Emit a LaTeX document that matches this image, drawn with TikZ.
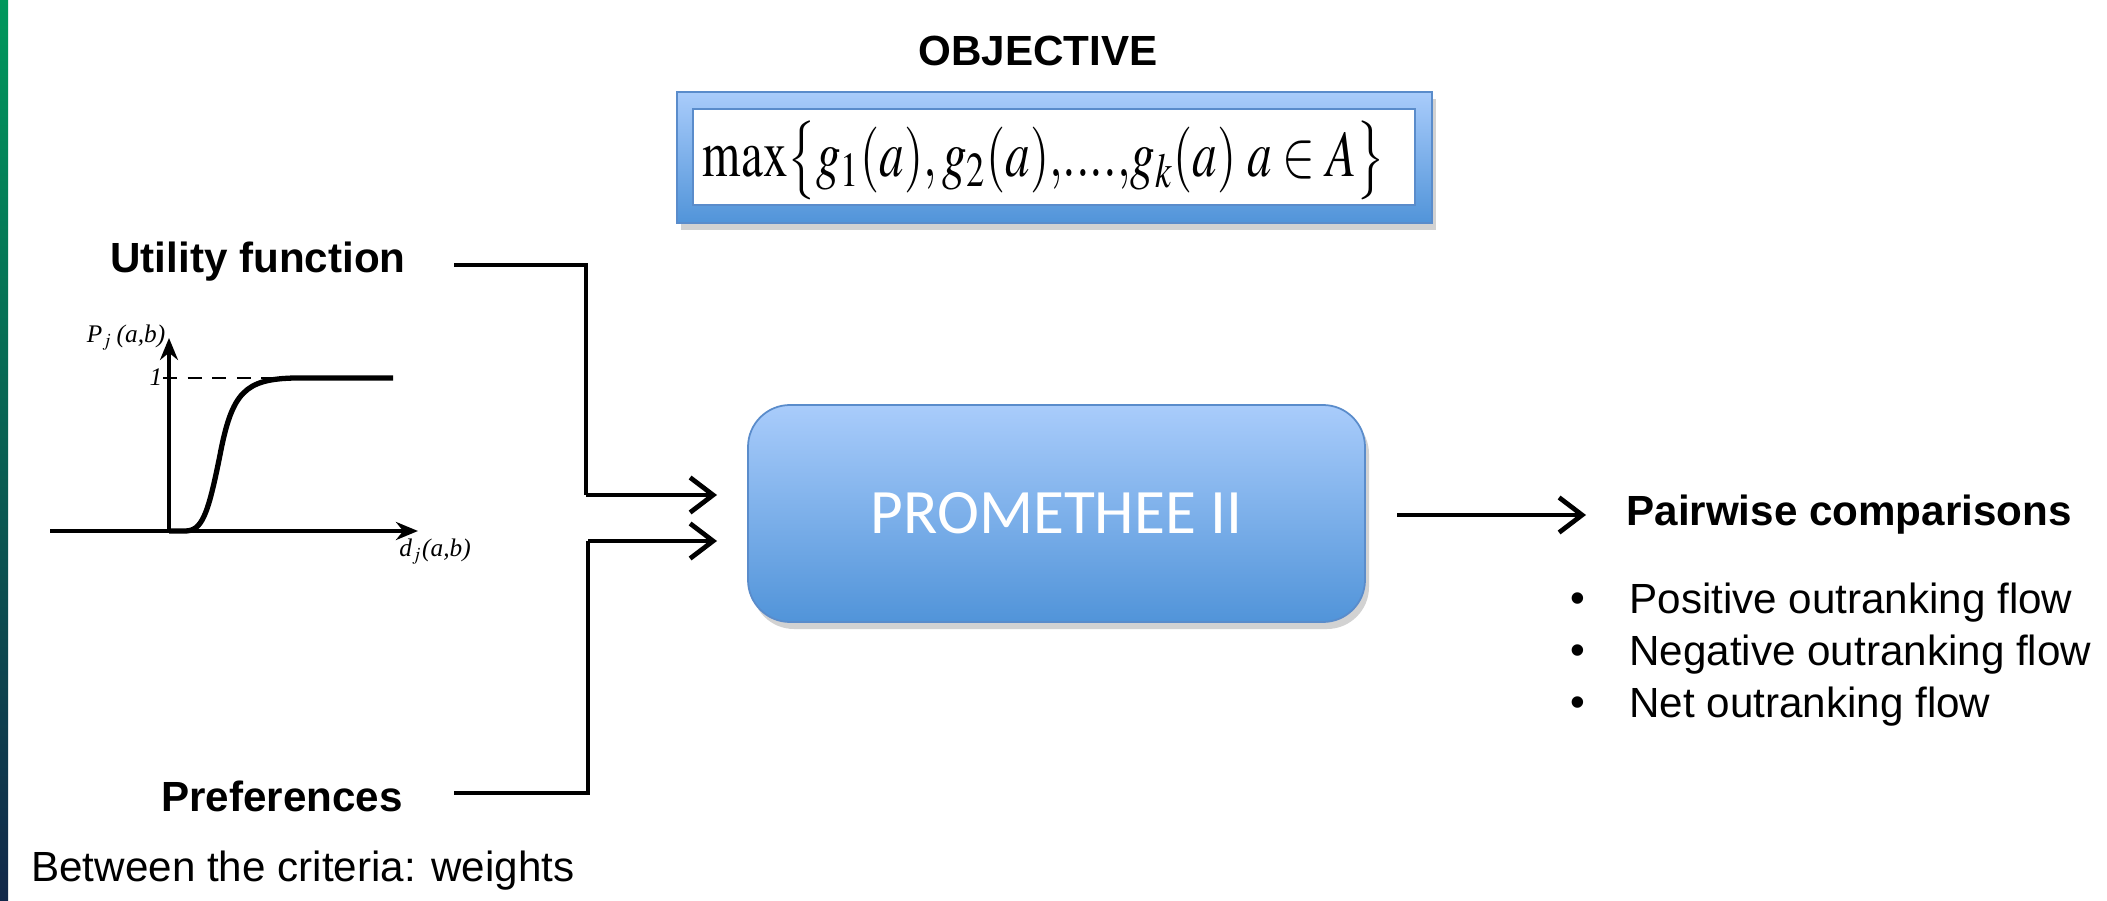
\documentclass[tikz,border=0pt]{standalone}
\usepackage{mathptmx}
\usepackage[no-math]{fontspec}
\setmainfont{Liberation Sans}
\newfontfamily\calibri{Carlito}
\newfontfamily\serif{Liberation Serif}
\usepackage{tikz}
\usetikzlibrary{arrows.meta,calc,shadows,positioning}

\definecolor{boxtop}{HTML}{A9CCFB}
\definecolor{boxbot}{HTML}{5194D9}
\definecolor{boxline}{HTML}{5A8CCB}
\definecolor{bargreen}{HTML}{00985C}
\definecolor{barteal}{HTML}{0B5050}
\definecolor{barnavy}{HTML}{12284A}

\tikzset{
  lbl/.style={font=\fontsize{12}{14}\selectfont\bfseries},
  item/.style={font=\fontsize{12}{14}\selectfont, anchor=west},
  link/.style={line width=1.35pt},
  flow/.style={line width=1.35pt, -{Straight Barb[length=2.3mm,width=3.5mm]}},
  bluebox/.style={draw=boxline, line width=0.5pt, top color=boxtop, bottom color=boxbot,
    drop shadow={opacity=0.35, shadow xshift=0.04cm, shadow yshift=-0.07cm}},
  plotlbl/.style={font=\serif\itshape\fontsize{7.2}{8}\selectfont, inner sep=0pt},
}

\begin{document}
\begin{tikzpicture}
\useasboundingbox (0,0) rectangle (21.07,9);
\fill [white] (0,0) rectangle (21.07,9);
\shade [top color=bargreen, middle color=barteal, bottom color=barnavy] (0,0) rectangle (0.08,9);

% objective
\node (objtitle) at (10.38,8.49) [lbl]{OBJECTIVE};
\node (objbox) at (10.545,7.425) [bluebox, minimum width=7.55cm, minimum height=1.31cm]{};
\node (objinner) at (10.54,7.43) [fill=white, draw=boxline, line width=0.4pt,
  minimum width=7.22cm, minimum height=0.96cm]{};
\node (objform) at (10.44,7.40) [inner sep=0pt, font=\fontsize{16}{18}\selectfont]
  {\resizebox{6.82cm}{0.56cm}{$\max\bigl\{g_1(a){,}\,g_2(a){,}....{,}g_k(a)\;a\in A\bigr\}$}};

% preference function sketch
\draw [line width=1.3pt, -{Stealth[length=2.2mm,width=1.8mm]}] (0.50,3.69) -- (4.18,3.69);
\draw [line width=0.9pt, -{Stealth[length=2.2mm,width=1.8mm]}] (1.69,3.69) -- (1.69,5.62);
\draw [line width=0.7pt, dashed, dash pattern=on 4pt off 3pt] (1.63,5.22) -- (3.93,5.22);
\draw [line width=1.5pt] (1.69,3.69) -- (1.85,3.69)
  .. controls (2.02,3.69) and (2.08,3.85) .. (2.20,4.45)
  .. controls (2.32,5.08) and (2.45,5.21) .. (2.95,5.22) -- (3.93,5.22);
\node (plabel) at (1.26,5.62) [plotlbl]{P$_j$\,(a,b)};
\node (one) at (1.56,5.23) [plotlbl]{1};
\node (dlabel) at (4.35,3.48) [plotlbl]{d$_j$(a,b)};

% inputs
\node (util) at (2.58,6.38) [lbl]{Utility function};
\node (pref) at (2.82,1.04) [lbl]{Preferences};
\node (crit) at (0.19,0.29) [item]{Between the criteria: weights};

% method
\node (prom) at (10.565,3.865) [bluebox, rounded corners=0.42cm, minimum width=6.17cm,
  minimum height=2.17cm, text=white, font=\calibri\fontsize{18}{21}\selectfont]{PROMETHEE II};

\coordinate (ustart) at (4.54,6.35);
\coordinate (ucorner) at (5.86,4.05);
\coordinate (uend) at (7.17,4.05);
\coordinate (pstart) at (4.54,1.07);
\coordinate (pcorner) at (5.88,3.59);
\coordinate (pend) at (7.17,3.59);
\draw [link] (ustart) -| (ucorner);
\draw [flow] (ucorner) -- (uend);
\draw [link] (pstart) -| (pcorner);
\draw [flow] (pcorner) -- (pend);

% outputs
\node (pair) at (16.14,3.85) [lbl, anchor=west]{Pairwise comparisons};
\coordinate (ostart) at (13.97,3.85);
\coordinate (oend) at (15.86,3.85);
\draw [flow] (ostart) -- (oend);

\foreach \y/\txt in {2.97/Positive outranking flow, 2.45/Negative outranking flow, 1.93/Net outranking flow}
{
  \node at (15.78,\y) [font=\fontsize{12}{14}\selectfont]{\textbullet};
  \node at (16.17,\y) [item]{\txt};
}
\end{tikzpicture}
\end{document}
